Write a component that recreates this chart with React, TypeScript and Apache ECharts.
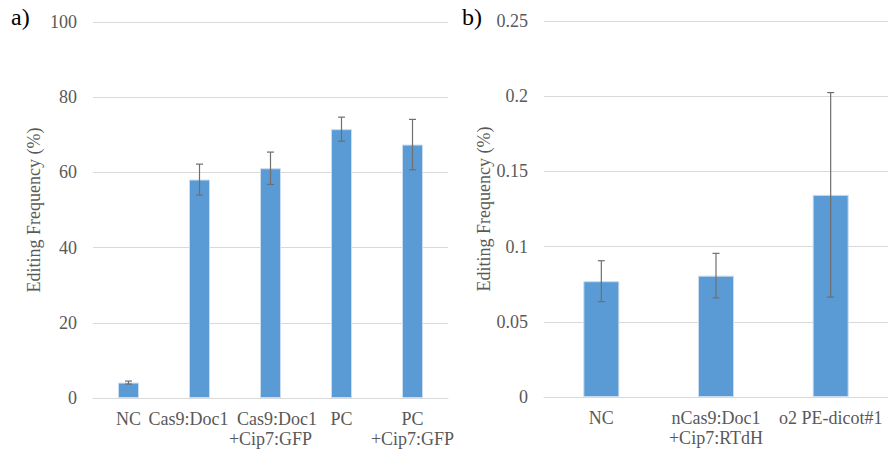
import React, { useEffect, useRef } from "react";
import * as echarts from "echarts";

const catsA = ["NC", "Cas9:Doc1", "Cas9:Doc1\n+Cip7:GFP", "PC", "PC\n+Cip7:GFP"];
const valsA = [4.1, 58.1, 61.1, 71.5, 67.4];
const errA = [0.4, 4.1, 4.3, 3.2, 6.7];

const catsB = ["NC", "nCas9:Doc1\n+Cip7:RTdH", "o2 PE-dicot#1"];
const valsB = [0.077, 0.0807, 0.1344];
const errB = [0.0136, 0.0148, 0.068];

const yAxisName = "Editing Frequency (%)";
const panelLabels = ["a)", "b)"];

const FONT = "'Liberation Serif', 'Times New Roman', serif";
const GRAY = "#595959";
const GRID = "#d9d9d9";
const BLUE = "#5b9bd5";

function errData(vals: number[], errs: number[]) {
  return vals.map((v, i) => [i, v - errs[i], v + errs[i]]);
}

function renderErr(params: any, api: any) {
  const x = api.value(0);
  const lo = api.coord([x, api.value(1)]);
  const hi = api.coord([x, api.value(2)]);
  const w = 3.5;
  const style = { stroke: "#6f6f6f", lineWidth: 1.2 };
  return {
    type: "group",
    children: [
      { type: "line", shape: { x1: lo[0], y1: lo[1], x2: hi[0], y2: hi[1] }, style },
      { type: "line", shape: { x1: hi[0] - w, y1: hi[1], x2: hi[0] + w, y2: hi[1] }, style },
      { type: "line", shape: { x1: lo[0] - w, y1: lo[1], x2: lo[0] + w, y2: lo[1] }, style },
    ],
  };
}

// first-line nudges (px) for the crowded labels of panel a, as the reference places them
function labelFormatter(value: string, index: number) {
  const lines = value.split("\n");
  if (lines.length === 1) {
    if (index === 1) return `{l|${lines[0]}}`;
    return `{c|${lines[0]}}`;
  }
  if (index === 2) return `{r|${lines[0]}}\n{c|${lines[1]}}`;
  return `{c|${lines[0]}}\n{c|${lines[1]}}`;
}

export default function App() {
  const ref = useRef<HTMLDivElement>(null);
  useEffect(() => {
    if (!ref.current) return;
    const chart = echarts.init(ref.current, null, { renderer: "svg" });
    const axisLabel = { color: GRAY, fontFamily: FONT, fontSize: 18 };
    const rich = {
      c: { ...axisLabel, lineHeight: 20 },
      l: { ...axisLabel, lineHeight: 20, padding: [0, 22, 0, 0] },
      r: { ...axisLabel, lineHeight: 20, padding: [0, 0, 0, 13] },
    };
    const xAxisCommon = {
      type: "category" as const,
      axisTick: { show: false },
      axisLine: { lineStyle: { color: GRID, width: 1 } },
    };
    const yAxisCommon = {
      type: "value" as const,
      name: yAxisName,
      nameLocation: "middle" as const,
      nameGap: 50,
      nameTextStyle: { color: GRAY, fontFamily: FONT, fontSize: 18 },
      axisLine: { show: false },
      axisTick: { show: false },
      splitLine: { lineStyle: { color: GRID, width: 1 } },
      axisLabel: { ...axisLabel, margin: 16 },
    };
    chart.setOption({
      animation: false,
      textStyle: { fontFamily: FONT },
      grid: [
        { left: 93, top: 22, width: 355, height: 376 },
        { left: 544, top: 21, width: 349, height: 376 },
      ],
      xAxis: [
        {
          ...xAxisCommon,
          gridIndex: 0,
          data: catsA,
          axisLabel: { ...axisLabel, interval: 0, margin: 11, lineHeight: 20, formatter: labelFormatter, rich },
        },
        {
          ...xAxisCommon,
          gridIndex: 1,
          data: catsB,
          axisLabel: { ...axisLabel, interval: 0, margin: 11, lineHeight: 20 },
        },
      ],
      yAxis: [
        { ...yAxisCommon, gridIndex: 0, min: 0, max: 100, interval: 20 },
        { ...yAxisCommon, gridIndex: 1, min: 0, max: 0.25, interval: 0.05 },
      ],
      series: [
        {
          type: "bar",
          xAxisIndex: 0,
          yAxisIndex: 0,
          data: valsA,
          barWidth: 21,
          itemStyle: { color: BLUE, borderColor: "#c9dcf0", borderWidth: 1 },
        },
        {
          type: "bar",
          xAxisIndex: 1,
          yAxisIndex: 1,
          data: valsB,
          barWidth: 36,
          itemStyle: { color: BLUE, borderColor: "#c9dcf0", borderWidth: 1 },
        },
        {
          type: "custom",
          xAxisIndex: 0,
          yAxisIndex: 0,
          data: errData(valsA, errA),
          encode: { x: 0, y: [1, 2] },
          renderItem: renderErr,
          z: 5,
        },
        {
          type: "custom",
          xAxisIndex: 1,
          yAxisIndex: 1,
          data: errData(valsB, errB),
          encode: { x: 0, y: [1, 2] },
          renderItem: renderErr,
          z: 5,
        },
      ],
      graphic: [
        {
          type: "text",
          left: 11,
          top: 5,
          style: { text: panelLabels[0], fontFamily: FONT, fontSize: 24, fill: "#000" },
        },
        {
          type: "text",
          left: 462,
          top: 5,
          style: { text: panelLabels[1], fontFamily: FONT, fontSize: 24, fill: "#000" },
        },
      ],
    });
    return () => chart.dispose();
  }, []);
  return (
    <div
      ref={ref}
      style={{ position: "fixed", left: 0, top: 0, width: 888, height: 455, background: "#fff" }}
    />
  );
}
